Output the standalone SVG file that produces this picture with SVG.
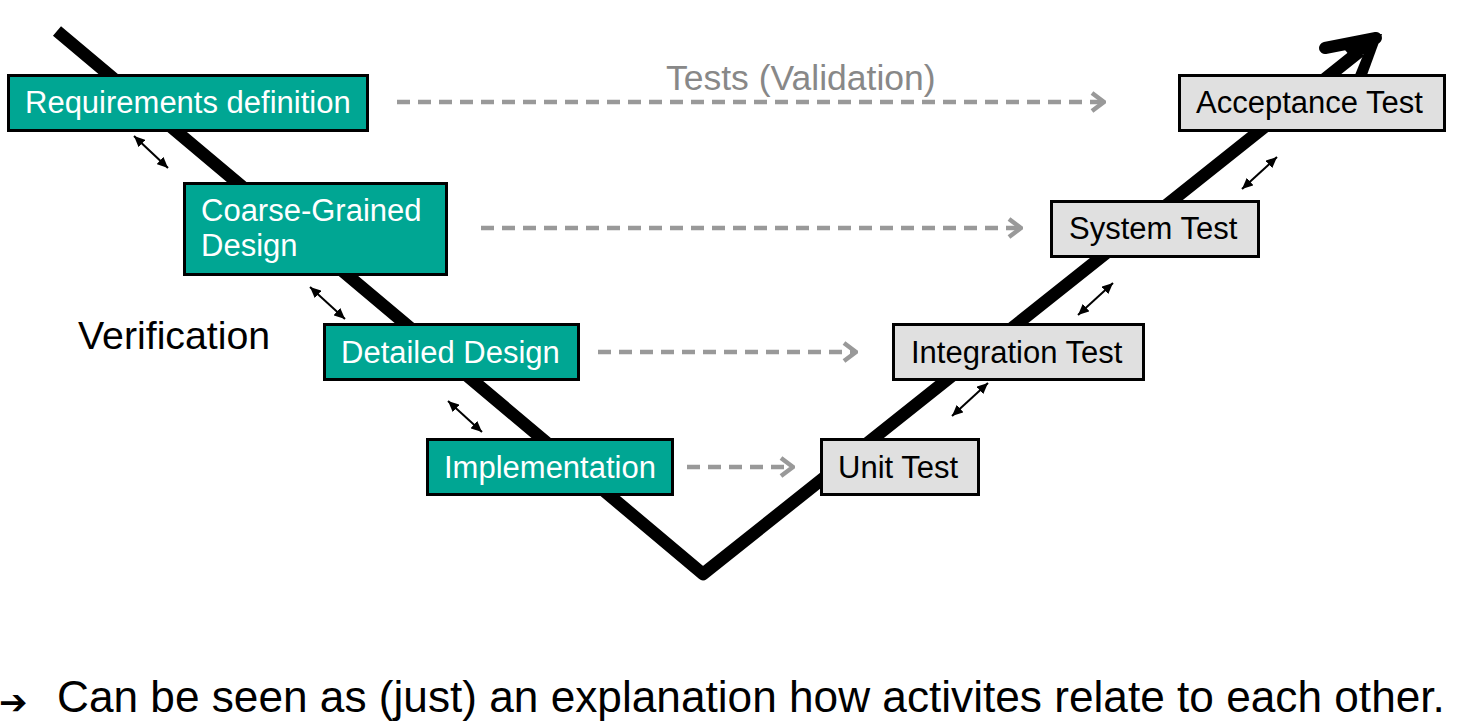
<svg xmlns="http://www.w3.org/2000/svg" width="1460" height="724" viewBox="0 0 1460 724">
<style>
text{font-family:"Liberation Sans",Arial,sans-serif}
.teal rect{fill:#00A693;stroke:#000;stroke-width:3}
.gray rect{fill:#E0E0E0;stroke:#000;stroke-width:3}
.teal text{fill:#fff;font-size:31px}
.gray text{fill:#000;font-size:31px}
.dash{stroke:#999;stroke-width:4.5;stroke-dasharray:13 8;fill:none;marker-end:url(#chev)}
.dbl{stroke:#000;stroke-width:2;fill:none;marker-start:url(#tri);marker-end:url(#tri)}
</style>
<defs>
<marker id="chev" viewBox="0 0 16 22" refX="14" refY="11" markerWidth="16" markerHeight="22" markerUnits="userSpaceOnUse" orient="auto">
<path d="M2,2 L14,11 L2,20" fill="none" stroke="#999" stroke-width="4.5"/>
</marker>
<marker id="tri" viewBox="0 0 11 10" refX="11" refY="5" markerWidth="11" markerHeight="10" markerUnits="userSpaceOnUse" orient="auto-start-reverse">
<path d="M0,0 L11,5 L0,10 z" fill="#000"/>
</marker>
</defs>
<rect width="1460" height="724" fill="#fff"/>
<g id="vshape">
<polyline points="57,31 703,574 1360,51" fill="none" stroke="#000" stroke-width="12.5" stroke-linejoin="round"/>
<path d="M1325,48 L1376,38" fill="none" stroke="#000" stroke-width="12" stroke-linecap="round"/>
<polygon points="1382,34 1367,75 1355,75 1370,38" fill="#000"/>
<polygon points="1382,34 1340,44 1350,56 1368,54" fill="#000"/>
</g>
<g id="connectors">
<line class="dash" x1="397" y1="102" x2="1104" y2="102"/>
<line class="dash" x1="481" y1="228" x2="1021" y2="228"/>
<line class="dash" x1="598" y1="352" x2="856" y2="352"/>
<line class="dash" x1="687" y1="467" x2="793" y2="467"/>
<line class="dbl" x1="134" y1="136" x2="168" y2="168"/>
<line class="dbl" x1="310" y1="287" x2="345" y2="319"/>
<line class="dbl" x1="448" y1="401" x2="482" y2="432"/>
<line class="dbl" x1="952" y1="416" x2="988" y2="383"/>
<line class="dbl" x1="1078" y1="315" x2="1113" y2="283"/>
<line class="dbl" x1="1242" y1="189" x2="1277" y2="157"/>
</g>
<g id="req" class="teal"><rect x="8.5" y="75.5" width="359" height="55"/><text x="25" y="113">Requirements definition</text></g>
<g id="coarse" class="teal"><rect x="184.5" y="183.5" width="262" height="91"/><text x="201" y="221">Coarse-Grained</text><text x="201" y="256">Design</text></g>
<g id="detailed" class="teal"><rect x="324.5" y="324.5" width="254" height="55"/><text x="341" y="363">Detailed Design</text></g>
<g id="impl" class="teal"><rect x="427.5" y="439.5" width="245" height="55"/><text x="444" y="478">Implementation</text></g>
<g id="unit" class="gray"><rect x="821.5" y="439.5" width="157" height="55"/><text x="838" y="478">Unit Test</text></g>
<g id="integration" class="gray"><rect x="893.5" y="324.5" width="250" height="55"/><text x="911" y="363">Integration Test</text></g>
<g id="system" class="gray"><rect x="1051.5" y="201.5" width="207" height="55"/><text x="1069" y="239">System Test</text></g>
<g id="acceptance" class="gray"><rect x="1179.5" y="75.5" width="265" height="55"/><text x="1196" y="113">Acceptance Test</text></g>
<g id="labels">
<text x="666" y="90" font-size="35.5" fill="#888">Tests (Validation)</text>
<text x="78" y="349" font-size="39.3" fill="#000">Verification</text>
<text x="-1" y="714" font-size="34" font-weight="bold" fill="#000" style="font-family:'DejaVu Sans',sans-serif">➔</text>
<text x="57" y="712" font-size="44.2" fill="#000">Can be seen as (just) an explanation how activites relate to each other.</text>
</g>
</svg>
